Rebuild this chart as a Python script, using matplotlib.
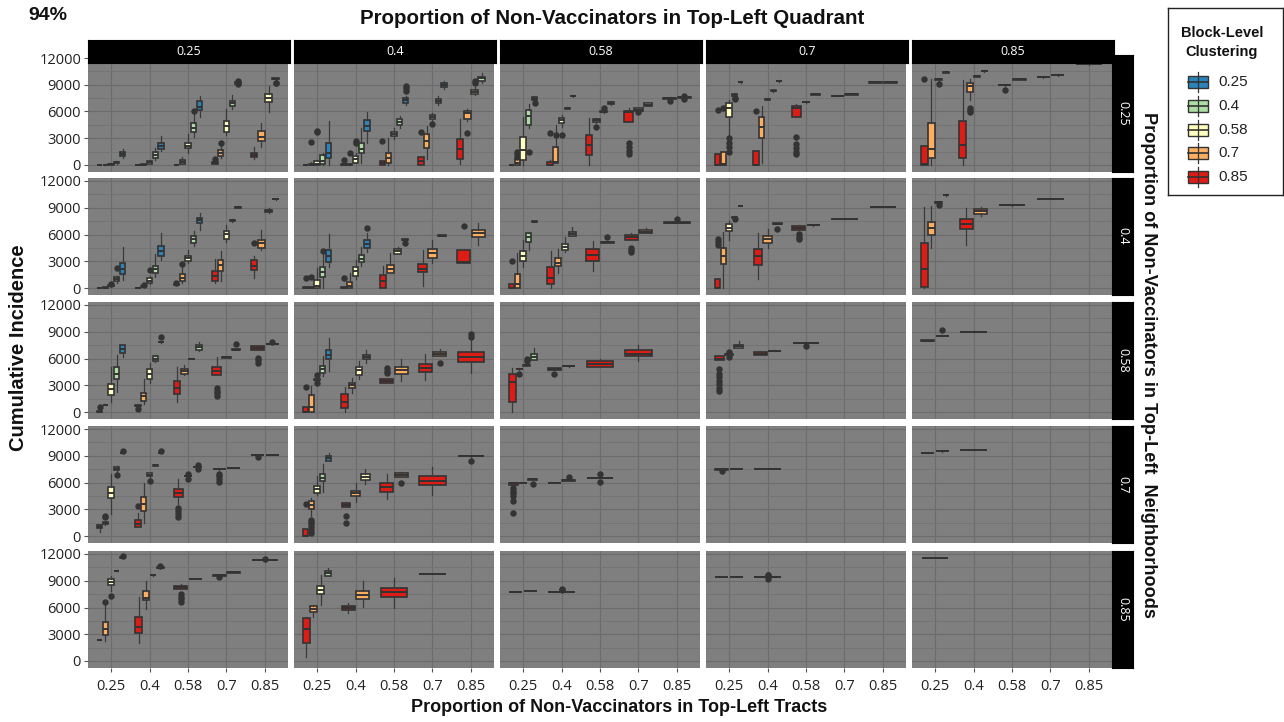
import matplotlib.pyplot as plt
from matplotlib.patches import Rectangle

plt.rcParams['font.family'] = ['Open Sans', 'DejaVu Sans']

W, H = 1284, 722

tract_levels = ['0.25', '0.4', '0.58', '0.7', '0.85']
quadrant_levels = ['0.25', '0.4', '0.58', '0.7', '0.85']
neighborhood_levels = ['0.25', '0.4', '0.58', '0.7', '0.85']
cluster_levels = ['0.25', '0.4', '0.58', '0.7', '0.85']
cluster_colors = ['#2B83BA', '#ABDDA4', '#FFFFBF', '#FDAE61', '#DD1C16']

# box = (cluster index, whisker low, q1, median, q3, whisker high, [outliers])
# one list per tract level, boxes left to right
nb25_qd25 = [
    [(4, 0, 0, 0, 0, 0), (3, 0, 0, 0, 0, 60), (2, 0, 30, 80, 130, 200), (1, 150, 220, 300, 360, 450), (0, 820, 1010, 1280, 1460, 1840)],
    [(4, 0, 0, 0, 0, 40), (3, 0, 0, 30, 60, 100), (2, 100, 150, 300, 450, 600), (1, 600, 750, 1090, 1460, 1950), (0, 1580, 1760, 2140, 2440, 3260)],
    [(4, 0, 0, 0, 20, 60), (3, 100, 150, 380, 560, 900), (2, 1390, 1880, 2180, 2480, 3450), (1, 3170, 3730, 4190, 4670, 5800, [6100]), (0, 5330, 6190, 6560, 7200, 7760)],
    [(4, 100, 150, 250, 340, 500, [640]), (3, 820, 1010, 1390, 1690, 2210, [2500]), (2, 3400, 3730, 4370, 4930, 6270), (1, 6300, 6610, 7000, 7170, 7900), (0, 9000, 9100, 9200, 9300, 9400, [9050, 9400])],
    [(4, 700, 860, 1100, 1380, 2000), (3, 2050, 2720, 3100, 3810, 4740), (2, 5970, 7020, 7540, 7920, 8850), (1, 9500, 9600, 9700, 9750, 9800, [9150, 9250])],
]
nb25_qd40 = [
    [(4, 0, 0, 0, 0, 80), (3, 0, 0, 50, 150, 300, [2600]), (2, 0, 50, 150, 450, 600, [3700, 3850]), (1, 0, 100, 500, 1100, 1300), (0, 0, 750, 1400, 2500, 4950)],
    [(4, 0, 0, 0, 100, 400, [600]), (3, 0, 0, 50, 100, 150, [1300]), (2, 190, 260, 640, 1010, 1300, [2500, 2700]), (1, 260, 1300, 1760, 2500, 4200), (0, 2510, 3830, 4390, 5060, 5890)],
    [(4, 0, 0, 200, 450, 450, [2700]), (3, 0, 260, 825, 1310, 3075), (2, 2900, 3260, 3490, 3700, 4200), (1, 4200, 4460, 4840, 5140, 5500), (0, 6710, 6940, 7275, 7540, 7760, [8325, 8600, 8890])],
    [(4, 0, 0, 400, 940, 940, [3700]), (3, 640, 1950, 2700, 3450, 4390), (2, 4900, 5140, 5350, 5590, 5800, [4575]), (1, 6700, 6940, 7150, 7390, 7700), (0, 8500, 8700, 8960, 9190, 9400)],
    [(4, 150, 640, 1840, 2960, 5140), (3, 4950, 5140, 5810, 6075, 6300, [3640]), (2, 7800, 7950, 8210, 8440, 8700, [9150, 9400]), (1, 9200, 9375, 9710, 9900, 10300)],
]
nb25_qd58 = [
    [(4, 0, 0, 0, 50, 100), (3, 0, 0, 200, 640, 700, [930, 1200, 1490]), (2, 0, 560, 1680, 3170, 5380), (1, 4200, 4480, 5490, 6160, 6800, [1490]), (0, 7200, 7280, 7400, 7580, 7700, [6940])],
    [(4, 0, 0, 0, 300, 560, [3580]), (3, 190, 260, 370, 1980, 4480, [3360]), (2, 4300, 4670, 5000, 5300, 5600, [3360]), (1, 6250, 6300, 6350, 6400, 6450), (0, 7650, 7700, 7730, 7760, 7800)],
    [(4, 0, 1120, 2240, 3360, 5230), (3, 4700, 4850, 5000, 5150, 5300, [4220]), (2, 5850, 5900, 5970, 6050, 6100, [6350]), (1, 6700, 6800, 6950, 7090, 7200)],
    [(4, 4850, 4850, 5900, 6050, 6350, [1200, 1600, 2000, 2500]), (3, 6000, 6050, 6200, 6350, 6400, [5900]), (2, 6600, 6640, 6770, 6900, 7000)],
    [(4, 7300, 7400, 7470, 7520, 7600, [7180]), (3, 7480, 7530, 7580, 7620, 7700, [7400, 7750])],
]
nb25_qd70 = [
    [(4, 0, 0, 0, 1200, 1200, [6160]), (3, 0, 0, 100, 1490, 1490, [6350]), (2, 3360, 5340, 6420, 6900, 7280, [1490, 2000, 2500, 3020]), (1, 7700, 7750, 7850, 7950, 8020, [7400, 7550]), (0, 9250, 9300, 9330, 9350, 9400)],
    [(4, 0, 0, 0, 1600, 1600, [6050]), (3, 260, 2990, 4220, 5340, 6610), (2, 7300, 7330, 7360, 7400, 7450), (1, 8200, 8280, 8320, 8360, 8450), (0, 9350, 9380, 9410, 9440, 9480)],
    [(4, 5410, 5410, 6420, 6640, 6800, [1200, 1500, 1900, 2300, 3100]), (3, 7000, 7030, 7060, 7090, 7120), (2, 7880, 7900, 7920, 7940, 7960)],
    [(4, 7700, 7740, 7760, 7780, 7820), (3, 7860, 7900, 7920, 7940, 7980)],
    [(4, 9200, 9240, 9260, 9280, 9320), (3, 9200, 9240, 9260, 9280, 9320)],
]
nb25_qd85 = [
    [(4, 0, 0, 100, 2150, 2150, [9700]), (3, 0, 840, 1750, 4670, 9630), (2, 9400, 9550, 9590, 9630, 9700, [9140]), (1, 10300, 10350, 10390, 10430, 10500)],
    [(4, 0, 840, 2280, 4890, 9500), (3, 7250, 8140, 8810, 9230, 9630, [5980, 6200, 6430]), (2, 9850, 9920, 9950, 9980, 10050), (1, 10450, 10500, 10530, 10560, 10620)],
    [(4, 8900, 8930, 8960, 8990, 9050, [8370]), (3, 9520, 9560, 9590, 9620, 9660)],
    [(4, 9800, 9840, 9860, 9880, 9920), (3, 10000, 10050, 10080, 10110, 10150)],
    [(4, 11250, 11280, 11300, 11320, 11350)],
]

nb40_qd25 = [
    [(4, 0, 0, 0, 0, 30), (3, 0, 0, 50, 80, 120), (2, 150, 200, 260, 300, 350, [450]), (1, 600, 730, 990, 1210, 1400, [2200]), (0, 915, 1570, 2160, 2750, 4570)],
    [(4, 0, 0, 0, 0, 30), (3, 100, 150, 180, 220, 280, [370]), (2, 400, 550, 840, 1100, 1400, [2010]), (1, 1200, 1650, 2120, 2490, 3840), (0, 3110, 3550, 4140, 4720, 6220)],
    [(4, 300, 340, 370, 420, 480, [550]), (3, 550, 800, 1170, 1540, 2380, [2670]), (2, 2800, 3040, 3330, 3590, 4280), (1, 4720, 5010, 5490, 5820, 6400), (0, 6480, 7250, 7580, 7870, 8420)],
    [(4, 550, 730, 1350, 1900, 3290), (3, 840, 1940, 2560, 3180, 4140), (2, 5200, 5490, 6040, 6370, 7060), (1, 7450, 7520, 7580, 7640, 7700), (0, 8950, 9000, 9040, 9080, 9150)],
    [(4, 1100, 2010, 2490, 3110, 3550, [5010]), (3, 4280, 4500, 5050, 5420, 6510), (2, 8400, 8550, 8670, 8800, 8950), (1, 9900, 9930, 9960, 9990, 10030)],
]
nb40_qd40 = [
    [(4, 0, 0, 0, 60, 100, [1100]), (3, 0, 0, 50, 100, 150, [1210]), (2, 0, 0, 200, 915, 2200), (1, 0, 1280, 1830, 2380, 4030, [4100]), (0, 2380, 2930, 3550, 4280, 6110)],
    [(4, 0, 0, 0, 80, 120, [1100]), (3, 0, 0, 260, 660, 1650), (2, 1000, 1390, 1900, 2380, 3180), (1, 2500, 2930, 3290, 3660, 4570), (0, 4030, 4500, 4940, 5380, 6220, [6770])],
    [(4, 0, 0, 730, 1460, 2490), (3, 1650, 1650, 2090, 2530, 3920), (2, 3770, 3770, 4100, 4360, 4650), (1, 5300, 5350, 5420, 5480, 5550, [5010])],
    [(4, 180, 1760, 2120, 2640, 4210), (3, 2750, 3400, 3920, 4320, 5420), (2, 5800, 5830, 5860, 5900, 5950)],
    [(4, 2850, 2850, 2930, 4210, 4210, [6950]), (3, 4870, 5750, 6150, 6480, 7250)],
]
nb40_qd58 = [
    [(4, 0, 0, 0, 480, 480, [3040]), (3, 0, 0, 440, 1540, 3920), (2, 2310, 3040, 3550, 4140, 5420), (1, 4210, 5200, 5670, 6150, 6300), (0, 7350, 7400, 7430, 7470, 7520)],
    [(4, 0, 440, 1100, 2310, 4100), (3, 1720, 2490, 2850, 3370, 4320), (2, 4030, 4280, 4610, 4940, 5670), (1, 5780, 5780, 6080, 6330, 6840)],
    [(4, 1940, 3040, 3660, 4390, 5310), (3, 5050, 5080, 5120, 5160, 5200, [5670])],
    [(4, 5380, 5380, 5670, 5970, 6200, [4030, 4250, 4470]), (3, 6190, 6190, 6330, 6480, 6700)],
    [(4, 7250, 7290, 7320, 7350, 7400, [7760])],
]
nb40_qd70 = [
    [(4, 0, 0, 0, 990, 990, [4870, 5200, 5490]), (3, 0, 2670, 3590, 4500, 6300), (2, 5420, 6400, 6770, 7140, 7500), (1, 7850, 7900, 7940, 7980, 8050, [7700]), (0, 9150, 9170, 9190, 9210, 9250)],
    [(4, 1020, 2560, 3550, 4320, 6150), (3, 4500, 5050, 5490, 5860, 6590), (2, 7150, 7180, 7210, 7240, 7280, [6660])],
    [(4, 6480, 6480, 6700, 6950, 7050, [5490, 5700, 6040]), (3, 7000, 7030, 7060, 7090, 7120)],
    [(4, 7730, 7750, 7760, 7780, 7800)],
    [(4, 9050, 9070, 9080, 9100, 9120)],
]
nb40_qd85 = [
    [(4, 0, 90, 2130, 5000, 9110), (3, 4460, 5900, 6680, 7440, 9200), (2, 9500, 9580, 9630, 9680, 9750, [9330]), (1, 10350, 10390, 10420, 10450, 10500)],
    [(4, 4780, 6630, 7210, 7750, 8930), (3, 8030, 8290, 8620, 8880, 9140)],
    [(4, 9240, 9260, 9280, 9300, 9320)],
    [(4, 9940, 9960, 9970, 9990, 10010)],
    [],
]

nb58_qd25 = [
    [(4, 0, 0, 50, 100, 150, [510]), (3, 750, 780, 800, 830, 860), (2, 1090, 1890, 2550, 3090, 5020), (1, 2260, 3710, 4300, 5020, 6370), (0, 6190, 6620, 7100, 7460, 7460)],
    [(4, 550, 620, 700, 800, 850, [290]), (3, 910, 1270, 1750, 2180, 3710), (2, 3280, 3710, 4300, 4800, 5460), (1, 5600, 5750, 6000, 6260, 6400), (0, 7780, 7800, 7830, 7860, 7900, [8370])],
    [(4, 1090, 2070, 2660, 3460, 5020), (3, 4100, 4300, 4620, 4840, 5300), (2, 5900, 5910, 5930, 5950, 5980), (1, 6800, 6990, 7280, 7460, 7900)],
    [(4, 4110, 4110, 4550, 5020, 6190, [1820, 2100, 2400, 2730]), (3, 6090, 6100, 6120, 6140, 6160), (2, 6950, 6970, 6990, 7010, 7040, [7640])],
    [(4, 6920, 6920, 7170, 7390, 7450, [5530, 5800, 6010]), (3, 7600, 7620, 7640, 7660, 7690, [7830])],
]
nb58_qd40 = [
    [(4, 0, 0, 0, 550, 550, [2800]), (3, 0, 0, 550, 1930, 2910), (2, 3550, 3600, 3640, 3680, 3720, [3200, 4190]), (1, 4000, 4370, 4800, 5170, 6260), (0, 4620, 5900, 6440, 6990, 8300)],
    [(4, 0, 470, 1090, 2000, 2800), (3, 2110, 2690, 2980, 3280, 3820), (2, 3710, 4190, 4660, 5100, 5710), (1, 5460, 5900, 6190, 6440, 6920)],
    [(4, 3200, 3200, 3460, 3710, 3710, [4370, 4650, 4910]), (3, 3530, 4300, 4730, 5100, 5930)],
    [(4, 3640, 4440, 4910, 5390, 6550), (3, 6260, 6260, 6550, 6730, 7100, [5530])],
    [(4, 4370, 5570, 6190, 6730, 8370, [8440, 8800])],
]
nb58_qd58 = [
    [(4, 0, 1080, 3390, 4250, 4960), (3, 4750, 4780, 4810, 4840, 4880, [4210]), (2, 5150, 5190, 5220, 5250, 5300, [5740, 6000]), (1, 5820, 5820, 6150, 6450, 7200)],
    [(4, 4700, 4700, 4830, 4960, 4990, [4290]), (3, 5100, 5120, 5150, 5180, 5210)],
    [(4, 5070, 5070, 5410, 5710, 6000)],
    [(4, 5710, 6270, 6560, 6900, 7500)],
    [],
]
nb58_qd70 = [
    [(4, 5820, 5820, 6000, 6230, 6300, [2350, 2700, 3100, 3500, 3900, 4300, 4810]), (3, 6350, 6400, 6450, 6500, 6550, [6150, 6750]), (2, 7200, 7200, 7390, 7570, 7980)],
    [(4, 6380, 6380, 6550, 6750, 6800), (3, 6820, 6840, 6860, 6880, 6900)],
    [(4, 7720, 7740, 7760, 7780, 7800, [7420])],
    [],
    [],
]
nb58_qd85 = [
    [(4, 7970, 7990, 8010, 8030, 8050), (3, 8500, 8530, 8550, 8570, 8600, [9230])],
    [(4, 8970, 8990, 9000, 9010, 9030)],
    [],
    [],
    [],
]

nb70_qd25 = [
    [(4, 440, 850, 1030, 1210, 1400), (3, 1250, 1290, 1420, 1550, 1600, [2080, 2280]), (2, 2500, 4230, 4780, 5450, 6920), (1, 7200, 7360, 7540, 7730, 7800, [6810]), (0, 9270, 9290, 9310, 9330, 9350, [9500])],
    [(4, 990, 990, 1400, 1770, 2580, [3310]), (3, 1470, 2830, 3610, 4340, 6000), (2, 6500, 6700, 6880, 7070, 7100, [6150]), (1, 7880, 7890, 7910, 7930, 7950), (0, 9280, 9290, 9310, 9330, 9350, [9500])],
    [(4, 3610, 4340, 4780, 5230, 6440, [2130, 2450, 2800, 3130]), (3, 6650, 6680, 6700, 6720, 6750, [6400, 6950]), (2, 7700, 7720, 7730, 7740, 7760, [7500, 7950])],
    [(4, 7440, 7460, 7470, 7490, 7500, [6070, 6400, 6700, 6990]), (3, 7630, 7640, 7650, 7660, 7670)],
    [(4, 9060, 9080, 9090, 9100, 9120, [8830]), (3, 9070, 9080, 9090, 9100, 9110)],
]
nb70_qd40 = [
    [(4, 0, 0, 0, 740, 740, [3570]), (3, 2210, 3050, 3530, 3970, 4230, [370, 700, 1000, 1300, 1600, 1840]), (2, 4600, 4860, 5260, 5630, 6700), (1, 4970, 6180, 6550, 6920, 8100), (0, 8460, 8460, 8760, 9020, 9300)],
    [(4, 3200, 3200, 3500, 3750, 3850, [1470, 2210]), (3, 3860, 4490, 4780, 5040, 5890), (2, 5780, 6330, 6620, 6920, 7470)],
    [(4, 4160, 4970, 5450, 5890, 6990), (3, 6620, 6620, 6850, 7070, 7200, [5960])],
    [(4, 4600, 5700, 6180, 6700, 7730)],
    [(4, 8900, 8920, 8940, 8960, 8980, [8460])],
]
nb70_qd58 = [
    [(4, 5740, 5740, 5900, 5970, 6000, [2540, 3900, 4500, 4800, 5000, 5330]), (3, 5940, 5950, 5970, 5990, 6000), (2, 6300, 6320, 6340, 6360, 6380, [5860])],
    [(4, 5940, 5950, 5970, 5990, 6000), (3, 6200, 6210, 6230, 6250, 6300, [6600])],
    [(4, 6500, 6510, 6530, 6550, 6570, [6080, 6970])],
    [],
    [],
]
nb70_qd70 = [
    [(4, 7420, 7440, 7460, 7480, 7500, [7300]), (3, 7500, 7520, 7530, 7540, 7560)],
    [(4, 7500, 7520, 7530, 7540, 7560)],
    [],
    [],
    [],
]
nb70_qd85 = [
    [(4, 9320, 9340, 9350, 9360, 9380), (3, 9460, 9480, 9490, 9500, 9520)],
    [(4, 9640, 9660, 9670, 9680, 9700)],
    [],
    [],
    [],
]

nb85_qd25 = [
    [(4, 2330, 2360, 2380, 2400, 2430), (3, 2270, 2920, 3540, 4370, 6300, [6600]), (2, 7900, 8480, 8880, 9200, 9560, [7330]), (1, 10050, 10080, 10100, 10120, 10150), (0, 11550, 11570, 11590, 11610, 11650, [11750])],
    [(4, 2020, 3180, 3830, 4980, 7220), (3, 5780, 6790, 7080, 7870, 9020), (2, 9570, 9590, 9600, 9620, 9640), (1, 10430, 10450, 10470, 10490, 10510, [10600])],
    [(4, 8050, 8050, 8300, 8410, 8600, [6610, 6900, 7200, 7510]), (3, 9180, 9190, 9200, 9210, 9220)],
    [(4, 9560, 9580, 9600, 9620, 9640, [9450]), (3, 9910, 9920, 9930, 9940, 9950)],
    [(4, 11270, 11290, 11300, 11310, 11330, [11450])],
]
nb85_qd40 = [
    [(4, 400, 1990, 3540, 4800, 4900), (3, 4980, 5450, 5880, 6170, 6320), (2, 6250, 7510, 7940, 8410, 9670), (1, 9570, 9570, 9850, 10140, 10400)],
    [(4, 5410, 5700, 5960, 6140, 6500), (3, 6070, 6900, 7400, 7870, 8950)],
    [(4, 5990, 7150, 7690, 8230, 9310)],
    [(4, 9730, 9740, 9750, 9760, 9770)],
    [],
]
nb85_qd58 = [
    [(4, 7740, 7750, 7760, 7770, 7780), (3, 7800, 7820, 7830, 7840, 7860)],
    [(4, 7740, 7750, 7760, 7770, 7780, [7950, 8130])],
    [],
    [],
    [],
]
nb85_qd70 = [
    [(4, 9420, 9430, 9440, 9450, 9460), (3, 9420, 9430, 9440, 9450, 9460)],
    [(4, 9380, 9390, 9400, 9410, 9420, [9180, 9600, 9700])],
    [],
    [],
    [],
]
nb85_qd85 = [
    [(4, 11500, 11510, 11520, 11530, 11540)],
    [],
    [],
    [],
    [],
]

panels = [
    [nb25_qd25, nb25_qd40, nb25_qd58, nb25_qd70, nb25_qd85],
    [nb40_qd25, nb40_qd40, nb40_qd58, nb40_qd70, nb40_qd85],
    [nb58_qd25, nb58_qd40, nb58_qd58, nb58_qd70, nb58_qd85],
    [nb70_qd25, nb70_qd40, nb70_qd58, nb70_qd70, nb70_qd85],
    [nb85_qd25, nb85_qd40, nb85_qd58, nb85_qd70, nb85_qd85],
]

fig = plt.figure(figsize=(W / 100, H / 100), dpi=100)


def px_axes(x0, y0, x1, y1):
    # axes placed in pixel coordinates measured from the top-left corner
    return fig.add_axes([x0 / W, 1 - y1 / H, (x1 - x0) / W, (y1 - y0) / H])


col_left = [88, 294, 500, 706, 912]
col_w = 200
zero_y = [165, 288, 412, 536, 661]
y_lo, y_hi = -750, 12350
px_per_val = 107 / 12000
edge = '#333333'

for r in range(5):
    top = zero_y[r] - y_hi * px_per_val
    bottom = zero_y[r] - y_lo * px_per_val
    for c in range(5):
        ax = px_axes(col_left[c], top, col_left[c] + col_w, bottom)
        ax.set_facecolor('#7f7f7f')
        ax.set_axisbelow(True)
        ax.set_xlim(0.4, 5.6)
        ax.set_ylim(y_lo, y_hi)
        ax.set_xticks(range(1, 6))
        ax.set_yticks([0, 3000, 6000, 9000, 12000])
        ax.set_yticks([1500, 4500, 7500, 10500], minor=True)
        ax.grid(True, which='major', color='#6c6c6c', lw=0.8)
        ax.grid(True, which='minor', axis='y', color='#727272', lw=0.6)
        for s in ax.spines.values():
            s.set_visible(False)
        ax.tick_params(axis='both', which='both', length=3, width=0.8, color='#555555',
                       labelsize=10.5, labelcolor='#222222', pad=2)
        ax.tick_params(axis='y', which='minor', length=0)
        if c == 0:
            ax.set_yticklabels(['0', '3000', '6000', '9000', '12000'])
        else:
            ax.tick_params(axis='y', which='major', length=0, labelleft=False)
        if r == 4:
            ax.set_xticklabels(tract_levels)
            ax.tick_params(axis='x', pad=5)
        else:
            ax.tick_params(axis='x', length=0, labelbottom=False)

        stats, pos, widths, fills = [], [], [], []
        for g, group in enumerate(panels[r][c]):
            n = len(group)
            for j, b in enumerate(group):
                stats.append(dict(whislo=b[1], q1=b[2], med=b[3], q3=b[4], whishi=b[5],
                                  fliers=b[6] if len(b) > 6 else []))
                pos.append(g + 1 - 0.375 + (j + 0.5) * 0.75 / n)
                widths.append(0.68 / n)
                fills.append(cluster_colors[b[0]])
        if stats:
            art = ax.bxp(stats, positions=pos, widths=widths, patch_artist=True,
                         showcaps=False, manage_ticks=False,
                         boxprops=dict(edgecolor=edge, linewidth=1.2),
                         medianprops=dict(color=edge, linewidth=1.4),
                         whiskerprops=dict(color='#3a3a3a', linewidth=0.9),
                         flierprops=dict(marker='o', markersize=3.6, markerfacecolor=edge,
                                         markeredgecolor=edge))
            for patch, col in zip(art['boxes'], fills):
                patch.set_facecolor(col)

# column strips along the top
for c in range(5):
    sx = px_axes(col_left[c], 40, col_left[c] + col_w + 2, 63)
    sx.set_facecolor('black')
    sx.set_xticks([])
    sx.set_yticks([])
    sx.text(0.5, 0.5, quadrant_levels[c], color='white', fontsize=9,
            ha='center', va='center', transform=sx.transAxes)

# row strips along the right side
for r in range(5):
    top = zero_y[r] - y_hi * px_per_val
    bottom = zero_y[r] - y_lo * px_per_val
    sx = px_axes(1112, top, 1133, bottom)
    sx.set_facecolor('black')
    sx.set_xticks([])
    sx.set_yticks([])
    sx.text(0.5, 0.5, neighborhood_levels[r], color='white', fontsize=9, rotation=-90,
            ha='center', va='center', transform=sx.transAxes)

bold = dict(family=['Liberation Sans', 'DejaVu Sans'], fontweight='bold', color='#111111')
fig.text(612 / W, 1 - 19 / H, 'Proportion of Non-Vaccinators in Top-Left Quadrant',
         ha='center', va='center', fontsize=14.8, **bold)
fig.text(619 / W, 1 - 707 / H, 'Proportion of Non-Vaccinators in Top-Left Tracts',
         ha='center', va='center', fontsize=13, **bold)
fig.text(19 / W, 1 - 348 / H, 'Cumulative Incidence', rotation=90,
         ha='center', va='center', fontsize=14.5, **bold)
fig.text(1149 / W, 1 - 365 / H, 'Proportion of Non-Vaccinators in Top-Left  Neighborhoods',
         rotation=-90, ha='center', va='center', fontsize=13.1, **bold)
fig.text(48 / W, 1 - 15 / H, '94%', ha='center', va='center', fontsize=14, **bold)

# legend drawn by hand in its own axes
lg = px_axes(1168, 8, 1283, 195)
lg.set_xlim(0, 115)
lg.set_ylim(187, 0)
lg.set_xticks([])
lg.set_yticks([])
for s in lg.spines.values():
    s.set_color('#222222')
    s.set_linewidth(1.0)
lg.text(54, 25, 'Block-Level', ha='center', va='center', fontsize=10.5, **bold)
lg.text(54, 44, 'Clustering', ha='center', va='center', fontsize=10.5, **bold)
key_y = [74, 98, 122, 145, 169]
for i, lab in enumerate(cluster_levels):
    y = key_y[i]
    lg.plot([30, 30], [y - 10, y + 10], color=edge, lw=0.9)
    lg.add_patch(Rectangle((20, y - 6), 20, 12, facecolor=cluster_colors[i],
                           edgecolor=edge, lw=1.0))
    lg.plot([20, 40], [y, y], color=edge, lw=1.2)
    lg.text(50, y, lab, ha='left', va='center', fontsize=11,
            family=['Liberation Sans', 'DejaVu Sans'], color='#222222')

fig.savefig('out.png', dpi=100, facecolor='white')
